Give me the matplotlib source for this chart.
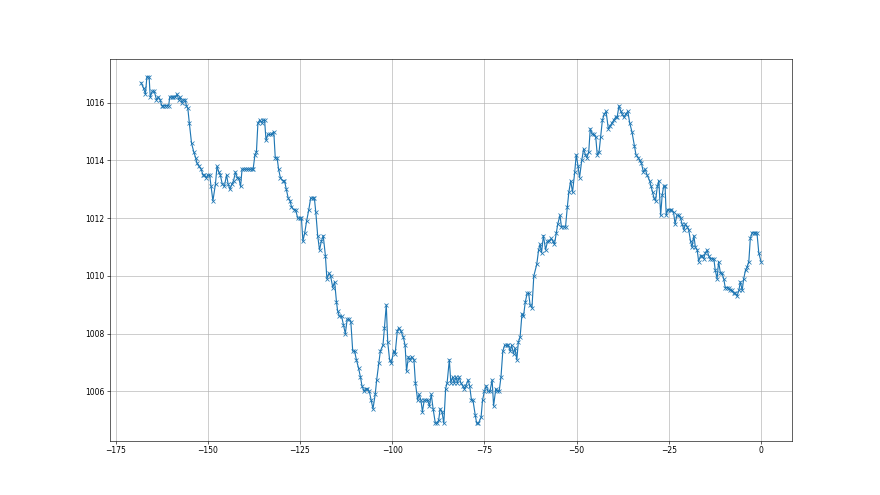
import matplotlib
matplotlib.use("Agg")
from matplotlib import pyplot as plt
import numpy as np

# hours before now (about one sample every half hour)
hours = [
    -168.1, -167.4, -166.9, -166.5, -165.9, -165.6, -165.0, -164.5, -163.9, -163.4,
    -162.9, -162.5, -162.1, -161.6, -161.1, -160.6, -160.3, -159.8, -159.3, -158.8,
    -158.3, -157.9, -157.5, -157.0, -156.6, -156.1, -155.8, -155.4, -155.0, -154.4,
    -153.8, -153.3, -152.9, -152.4, -151.8, -151.3, -150.9, -150.4, -150.0, -149.5,
    -149.1, -148.6, -147.9, -147.5, -147.0, -146.6, -146.1, -145.5, -144.9, -144.5,
    -144.0, -143.4, -143.0, -142.5, -142.0, -141.6, -141.1, -140.7, -140.2, -139.7,
    -139.1, -138.6, -138.1, -137.7, -137.2, -136.8, -136.4, -135.9, -135.4, -135.0,
    -134.6, -134.2, -133.7, -133.2, -132.7, -132.1, -131.7, -131.2, -130.8, -130.3,
    -129.7, -129.2, -128.7, -128.2, -127.7, -127.3, -126.7, -126.2, -125.6, -125.1,
    -124.6, -124.2, -123.7, -123.2, -122.6, -122.1, -121.6, -121.1, -120.7, -120.2,
    -119.7, -119.2, -118.7, -118.1, -117.7, -117.1, -116.7, -116.1, -115.6, -115.1,
    -114.8, -114.3, -113.7, -113.2, -112.7, -112.2, -111.6, -111.2, -110.7, -110.2,
    -109.7, -109.1, -108.6, -108.2, -107.6, -107.2, -106.7, -106.2, -105.7, -105.2,
    -104.6, -104.2, -103.6, -103.2, -102.5, -102.1, -101.6, -101.2, -100.7, -100.2,
    -99.6, -99.2, -98.6, -98.2, -97.7, -97.0, -96.5, -96.1, -95.6, -95.2,
    -94.7, -94.1, -93.7, -93.1, -92.7, -92.2, -91.8, -91.3, -90.9, -90.4,
    -89.9, -89.4, -88.9, -88.3, -87.9, -87.4, -87.0, -86.5, -86.0, -85.5,
    -85.1, -84.5, -84.1, -83.6, -83.2, -82.7, -82.3, -81.8, -81.4, -80.9,
    -80.4, -80.0, -79.4, -79.0, -78.5, -78.1, -77.5, -77.1, -76.6, -75.9,
    -75.5, -75.0, -74.5, -74.0, -73.5, -72.9, -72.5, -71.9, -71.5, -71.0,
    -70.5, -70.0, -69.5, -69.0, -68.5, -68.0, -67.6, -67.1, -66.7, -66.2,
    -65.8, -65.3, -64.8, -64.4, -63.9, -63.4, -63.0, -62.6, -62.1, -61.6,
    -60.8, -60.3, -59.9, -59.5, -59.0, -58.4, -57.9, -57.4, -56.9, -56.4,
    -56.0, -55.5, -55.1, -54.5, -54.1, -53.5, -53.0, -52.5, -52.1, -51.6,
    -51.1, -50.5, -50.1, -49.6, -49.2, -48.6, -48.1, -47.6, -47.2, -46.7,
    -46.3, -45.7, -45.3, -44.8, -44.4, -43.9, -43.5, -43.0, -42.5, -42.0,
    -41.4, -40.9, -40.4, -39.9, -39.4, -39.0, -38.5, -38.0, -37.6, -37.2,
    -36.7, -36.1, -35.6, -35.0, -34.3, -33.9, -33.3, -32.9, -32.4, -31.9,
    -31.4, -30.9, -30.2, -29.8, -29.4, -29.0, -28.6, -28.1, -27.7, -27.2,
    -26.8, -26.4, -26.0, -25.7, -25.3, -24.8, -24.3, -23.7, -23.3, -22.8,
    -22.3, -21.8, -21.4, -20.9, -20.5, -20.0, -19.6, -19.1, -18.7, -18.2,
    -17.8, -17.3, -16.9, -16.4, -16.0, -15.5, -15.1, -14.6, -14.2, -13.7,
    -13.3, -12.8, -12.4, -11.9, -11.5, -11.0, -10.6, -10.1, -9.7, -9.2,
    -8.8, -8.3, -7.9, -7.4, -7.0, -6.5, -6.0, -5.6, -5.1, -4.7,
    -4.2, -3.8, -3.3, -2.9, -2.4, -1.9, -1.5, -1.1, -0.6, 0.0,
]

# pressure in hPa
pressure = [
    1016.7, 1016.5, 1016.3, 1016.9, 1016.9, 1016.2, 1016.4, 1016.4, 1016.1, 1016.2,
    1016.1, 1015.9, 1015.9, 1015.9, 1015.9, 1015.9, 1016.2, 1016.2, 1016.2, 1016.2,
    1016.3, 1016.1, 1016.2, 1016.0, 1016.1, 1016.1, 1015.9, 1015.8, 1015.3, 1014.6,
    1014.3, 1014.1, 1013.9, 1013.8, 1013.7, 1013.5, 1013.5, 1013.4, 1013.5, 1013.5,
    1013.1, 1012.6, 1013.2, 1013.8, 1013.6, 1013.5, 1013.2, 1013.1, 1013.5, 1013.2,
    1013.0, 1013.2, 1013.3, 1013.6, 1013.4, 1013.4, 1013.1, 1013.7, 1013.7, 1013.7,
    1013.7, 1013.7, 1013.7, 1013.7, 1014.2, 1014.3, 1015.3, 1015.4, 1015.3, 1015.4,
    1015.4, 1014.7, 1014.9, 1014.9, 1014.9, 1015.0, 1014.1, 1014.1, 1013.7, 1013.4,
    1013.3, 1013.3, 1013.0, 1012.7, 1012.6, 1012.4, 1012.3, 1012.3, 1012.0, 1012.0,
    1012.0, 1011.2, 1011.5, 1011.9, 1012.3, 1012.7, 1012.7, 1012.7, 1012.2, 1011.4,
    1010.9, 1011.2, 1011.4, 1010.7, 1009.9, 1010.1, 1010.0, 1009.6, 1009.8, 1009.1,
    1008.8, 1008.6, 1008.6, 1008.3, 1008.0, 1008.5, 1008.5, 1008.4, 1007.4, 1007.4,
    1007.1, 1006.8, 1006.5, 1006.2, 1006.0, 1006.1, 1006.1, 1006.0, 1005.7, 1005.4,
    1005.9, 1006.4, 1007.0, 1007.4, 1007.6, 1008.2, 1009.0, 1007.7, 1007.1, 1007.0,
    1007.4, 1007.3, 1008.1, 1008.2, 1008.1, 1007.9, 1007.6, 1006.7, 1007.2, 1007.1,
    1007.2, 1007.1, 1006.3, 1005.7, 1005.9, 1005.7, 1005.3, 1005.7, 1005.7, 1005.7,
    1005.5, 1005.9, 1005.4, 1004.9, 1004.9, 1005.0, 1005.4, 1005.3, 1004.9, 1006.1,
    1006.3, 1007.1, 1006.3, 1006.5, 1006.3, 1006.5, 1006.3, 1006.5, 1006.3, 1006.2,
    1006.1, 1006.2, 1006.4, 1006.2, 1005.7, 1005.7, 1005.2, 1004.9, 1004.9, 1005.1,
    1005.7, 1006.0, 1006.2, 1006.0, 1006.0, 1006.4, 1005.5, 1006.1, 1006.0, 1006.0,
    1006.5, 1007.4, 1007.6, 1007.6, 1007.6, 1007.4, 1007.6, 1007.3, 1007.5, 1007.1,
    1007.7, 1007.9, 1008.7, 1008.6, 1009.1, 1009.4, 1009.4, 1009.0, 1008.9, 1010.0,
    1010.4, 1010.9, 1011.1, 1010.8, 1011.4, 1010.9, 1011.2, 1011.2, 1011.3, 1011.2,
    1011.1, 1011.5, 1011.8, 1012.1, 1011.7, 1011.7, 1011.7, 1012.4, 1012.9, 1013.3,
    1012.9, 1013.6, 1014.2, 1013.8, 1013.4, 1014.0, 1014.4, 1014.2, 1014.1, 1014.3,
    1015.1, 1014.9, 1014.9, 1014.8, 1014.2, 1014.3, 1014.8, 1015.4, 1015.6, 1015.7,
    1015.1, 1015.2, 1015.3, 1015.4, 1015.5, 1015.5, 1015.9, 1015.7, 1015.6, 1015.5,
    1015.6, 1015.7, 1015.3, 1015.0, 1014.5, 1014.2, 1014.1, 1014.0, 1013.9, 1013.6,
    1013.7, 1013.5, 1013.3, 1013.1, 1012.9, 1012.7, 1012.6, 1013.1, 1013.3, 1012.1,
    1012.8, 1013.1, 1013.1, 1012.1, 1012.3, 1012.3, 1012.3, 1012.2, 1011.8, 1012.1,
    1012.1, 1012.0, 1011.8, 1011.6, 1011.8, 1011.7, 1011.6, 1011.2, 1011.0, 1011.4,
    1011.0, 1010.9, 1010.5, 1010.7, 1010.7, 1010.6, 1010.8, 1010.9, 1010.7, 1010.6,
    1010.6, 1010.6, 1010.2, 1009.9, 1010.5, 1010.1, 1010.1, 1009.9, 1009.6, 1009.6,
    1009.6, 1009.5, 1009.5, 1009.4, 1009.4, 1009.3, 1009.5, 1009.8, 1009.5, 1009.9,
    1010.2, 1010.3, 1010.5, 1011.3, 1011.5, 1011.5, 1011.5, 1011.5, 1010.8, 1010.5,
]

fig = plt.figure(figsize=(16, 9), dpi=55)
ax = fig.add_subplot(111)
ax.plot(np.array(hours), np.array(pressure), marker="x")
ax.grid(True)

fig.savefig("out.png", dpi=55)
plt.close(fig)
